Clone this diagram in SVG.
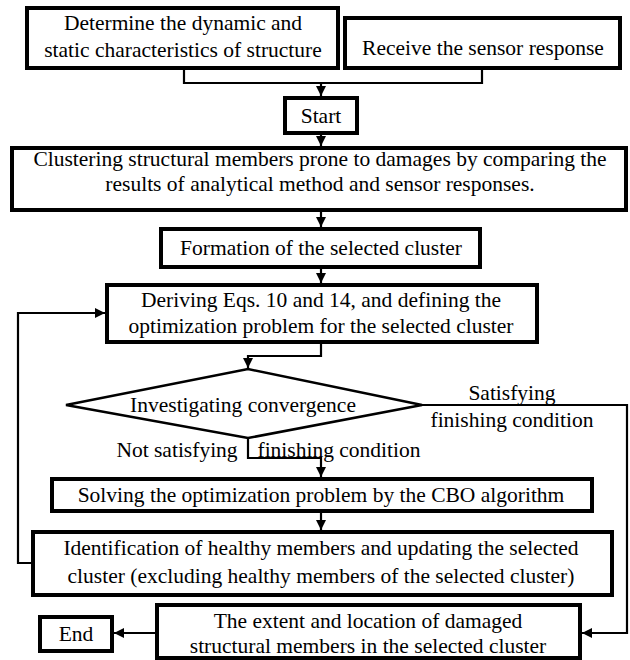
<svg xmlns="http://www.w3.org/2000/svg" width="630" height="660" viewBox="0 0 630 660">
<style>
.box{fill:#fff;stroke:#000;stroke-width:4}
.dia{fill:#fff;stroke:#000;stroke-width:2.5}
.t{font-family:"Liberation Serif","DejaVu Serif",serif;font-size:21.5px;fill:#000;text-anchor:middle}
.c{fill:none;stroke:#000;stroke-width:2.2}
</style>
<defs>
<marker id="ah" markerUnits="userSpaceOnUse" markerWidth="10" markerHeight="10" refX="10" refY="5" orient="auto" viewBox="0 0 10 10">
<path d="M0,0 L10,5 L0,10 z" fill="#000"/>
</marker>
</defs>
<rect width="630" height="660" fill="#fff"/>
<g id="connectors">
<polyline class="c" points="184,68 184,83 482,83 482,68"/>
<line class="c" x1="321" y1="83" x2="321" y2="96" marker-end="url(#ah)"/>
<line class="c" x1="321" y1="133" x2="321" y2="146" marker-end="url(#ah)"/>
<line class="c" x1="321" y1="210" x2="321" y2="227" marker-end="url(#ah)"/>
<line class="c" x1="321" y1="267" x2="321" y2="283" marker-end="url(#ah)"/>
<polyline class="c" points="321,342 321,356 248,356 248,368" marker-end="url(#ah)"/>
<polyline class="c" points="248,438 248,458 321,458 321,477" marker-end="url(#ah)"/>
<line class="c" x1="321" y1="511" x2="321" y2="530" marker-end="url(#ah)"/>
<polyline class="c" points="33,563 18,563 18,313 105,313" marker-end="url(#ah)"/>
<polyline class="c" points="422,405 627,405 627,633 582,633" marker-end="url(#ah)"/>
<line class="c" x1="157" y1="633" x2="114" y2="633" marker-end="url(#ah)"/>
<text class="t" x="512" y="400">Satisfying</text>
<text class="t" x="512" y="427">finishing condition</text>
<text class="t" x="177" y="457">Not satisfying</text>
<text class="t" x="339" y="457">finishing condition</text>
</g>
<g id="n1">
<rect class="box" x="27" y="8" width="311" height="60"/>
<text class="t" x="183" y="30">Determine the dynamic and</text>
<text class="t" x="183" y="57">static characteristics of structure</text>
</g>
<g id="n2">
<rect class="box" x="345" y="18" width="275" height="50"/>
<text class="t" x="483" y="55">Receive the sensor response</text>
</g>
<g id="start">
<rect class="box" x="285" y="98" width="72" height="35"/>
<text class="t" x="321" y="123">Start</text>
</g>
<g id="clustering">
<rect class="box" x="12" y="148" width="614" height="62"/>
<text class="t" x="320" y="166">Clustering structural members prone to damages by comparing the</text>
<text class="t" x="320" y="191">results of analytical method and sensor responses.</text>
</g>
<g id="formation">
<rect class="box" x="161" y="229" width="319" height="38"/>
<text class="t" x="321" y="255">Formation of the selected cluster</text>
</g>
<g id="deriving">
<rect class="box" x="107" y="285" width="430" height="57"/>
<text class="t" x="321" y="307">Deriving Eqs. 10 and 14, and defining the</text>
<text class="t" x="321" y="333">optimization problem for the selected cluster</text>
</g>
<g id="convergence">
<polygon class="dia" points="66,405 248,369 422,405 248,438"/>
<text class="t" x="243" y="412">Investigating convergence</text>
</g>
<g id="solving">
<rect class="box" x="52" y="479" width="540" height="32"/>
<text class="t" x="321" y="502">Solving the optimization problem by the CBO algorithm</text>
</g>
<g id="identification">
<rect class="box" x="33" y="532" width="579" height="63"/>
<text class="t" x="321" y="555">Identification of healthy members and updating the selected</text>
<text class="t" x="321" y="583">cluster (excluding healthy members of the selected cluster)</text>
</g>
<g id="result">
<rect class="box" x="157" y="605" width="423" height="53"/>
<text class="t" x="368" y="628">The extent and location of damaged</text>
<text class="t" x="368" y="653">structural members in the selected cluster</text>
</g>
<g id="end">
<rect class="box" x="40" y="617" width="72" height="34"/>
<text class="t" x="76" y="641">End</text>
</g>
</svg>
